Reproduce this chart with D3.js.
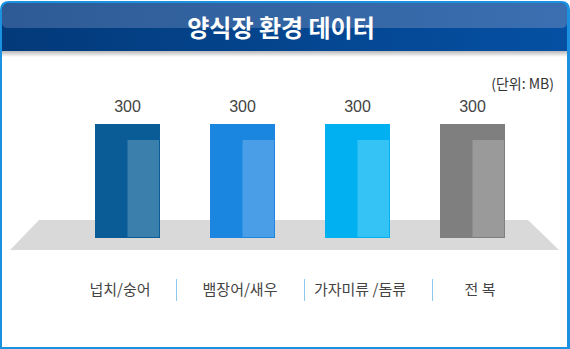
<!DOCTYPE html>
<html>
<head>
<meta charset="utf-8">
<script src="https://cdn.jsdelivr.net/npm/d3@7/dist/d3.min.js"></script>
<style>
  html, body { margin: 0; padding: 0; background: #fff; }
  svg { display: block; }
</style>
</head>
<body>
<script>
// Chart data
const title = "양식장 환경 데이터";
const unitLabel = "(단위: MB)";
const categories = ["넙치/숭어", "뱀장어/새우", "가자미류 /돔류", "전 복"];
const values = [300, 300, 300, 300];
const barColors = ["#0a5c96", "#1a86e0", "#00b0f0", "#7f7f7f"];
const innerColors = ["#3b80ad", "#4a9ee8", "#35c3f5", "#9a9a9a"];

const W = 570, H = 349;
const svg = d3.select("body").append("svg").attr("width", W).attr("height", H);
const defs = svg.append("defs");

// Header gradients
const gLow = defs.append("linearGradient").attr("id", "hdrLow").attr("x1", 0).attr("x2", 1);
gLow.append("stop").attr("offset", 0).attr("stop-color", "#033a7a");
gLow.append("stop").attr("offset", 1).attr("stop-color", "#0550a3");
const gTop = defs.append("linearGradient").attr("id", "hdrTop").attr("x1", 0).attr("x2", 1);
gTop.append("stop").attr("offset", 0).attr("stop-color", "#2e5b95");
gTop.append("stop").attr("offset", 1).attr("stop-color", "#3a6fb1");
const gShadow = defs.append("linearGradient").attr("id", "hdrShadow").attr("x1", 0).attr("x2", 0).attr("y1", 0).attr("y2", 1);
gShadow.append("stop").attr("offset", 0).attr("stop-color", "#000").attr("stop-opacity", 0.28);
gShadow.append("stop").attr("offset", 1).attr("stop-color", "#000").attr("stop-opacity", 0);

// Outer frame
const frameColor = "#1b92e0";
svg.append("rect").attr("x", 0).attr("y", 0).attr("width", W).attr("height", H).attr("fill", "#fff");

// Header panel with rounded top corners
const r = 9, hTop = 1, hBot = 51;
const hdrPath = `M0,${hBot} L0,${hTop + r} Q0,${hTop} ${r},${hTop} L${W - r},${hTop} Q${W},${hTop} ${W},${hTop + r} L${W},${hBot} Z`;
svg.append("path").attr("d", hdrPath).attr("fill", frameColor);
const inner = `M2,${hBot} L2,${hTop + r + 1} Q2,${hTop + 2} ${r + 1},${hTop + 2} L${W - r - 1},${hTop + 2} Q${W - 3},${hTop + 2} ${W - 3},${hTop + r + 1} L${W - 3},${hBot} Z`;
svg.append("path").attr("d", inner).attr("fill", "url(#hdrLow)");
// Glossy upper band
svg.append("path")
  .attr("d", `M2,${hTop + r + 1} Q2,${hTop + 2} ${r + 1},${hTop + 2} L${W - r - 1},${hTop + 2} Q${W - 3},${hTop + 2} ${W - 3},${hTop + r + 1} L${W - 3},22 Q${W - 3},28 ${W - 9},28 L8,28 Q2,28 2,22 Z`)
  .attr("fill", "url(#hdrTop)");
svg.append("rect").attr("x", 2).attr("y", hBot).attr("width", W - 5).attr("height", 6).attr("fill", "url(#hdrShadow)");

svg.append("text")
  .attr("x", 281).attr("y", 26)
  .attr("text-anchor", "middle").attr("dominant-baseline", "central")
  .attr("font-family", "'Noto Sans CJK KR', sans-serif")
  .attr("font-weight", 700).attr("font-size", 24)
  .attr("fill", "#fff")
  .text(title);

// Side and bottom borders
svg.append("rect").attr("x", 0).attr("y", hBot).attr("width", 2).attr("height", H - hBot).attr("fill", frameColor);
svg.append("rect").attr("x", W - 3).attr("y", hBot).attr("width", 3).attr("height", H - hBot).attr("fill", frameColor);
svg.append("rect").attr("x", 0).attr("y", H - 2).attr("width", W).attr("height", 2).attr("fill", frameColor);

// Scales
const x = d3.scaleBand().domain(categories).range([37.5, 562.5]).paddingInner(0.4348).paddingOuter(0.5);
const y = d3.scaleLinear().domain([0, 300]).range([238, 124]);

// Floor plane
const floorTop = 220, floorBot = 250;
svg.append("path")
  .attr("d", `M39,${floorTop} L528,${floorTop} L559,${floorBot} L10,${floorBot} Z`)
  .attr("fill", "#d9d9d9");

// Unit label
svg.append("text")
  .attr("x", 554).attr("y", 89)
  .attr("text-anchor", "end")
  .attr("font-family", "'Noto Sans CJK KR', sans-serif")
  .attr("font-size", 14).attr("fill", "#333")
  .text(unitLabel);

const data = categories.map((c, i) => ({ c, v: values[i], col: barColors[i], inner: innerColors[i] }));

// Bars
const bars = svg.append("g").selectAll("g").data(data).join("g");
bars.append("rect")
  .attr("x", d => x(d.c))
  .attr("y", d => y(d.v))
  .attr("width", x.bandwidth())
  .attr("height", d => y(0) - y(d.v))
  .attr("fill", d => d.col);
bars.append("rect")
  .attr("x", d => x(d.c) + x.bandwidth() * 0.5)
  .attr("y", d => y(d.v) + 16)
  .attr("width", x.bandwidth() * 0.5 - 1)
  .attr("height", d => y(0) - y(d.v) - 17)
  .attr("fill", d => d.inner);

// Value labels
bars.append("text")
  .attr("x", d => x(d.c) + x.bandwidth() / 2)
  .attr("y", d => y(d.v) - 12)
  .attr("text-anchor", "middle")
  .attr("font-family", "'Liberation Sans', Arial, sans-serif")
  .attr("font-size", 16).attr("fill", "#444")
  .text(d => d3.format("d")(d.v));

// Category labels along the bottom row
const labelPos = d3.scalePoint().domain(categories).range([120, 480]);
const sepScale = d3.scaleBand().domain(categories).range([48, 560]);
svg.append("g").selectAll("text").data(data).join("text")
  .attr("x", d => labelPos(d.c))
  .attr("y", 295)
  .attr("text-anchor", "middle")
  .attr("font-family", "'Noto Sans CJK KR', sans-serif")
  .attr("font-size", 15).attr("fill", "#444")
  .text(d => d.c);

// Separators between categories
svg.append("g").selectAll("line").data(categories.slice(1)).join("line")
  .attr("x1", d => sepScale(d) + 0.5).attr("x2", d => sepScale(d) + 0.5)
  .attr("y1", 279).attr("y2", 301)
  .attr("stroke", "#8ec9ec").attr("stroke-width", 1);
</script>
</body>
</html>
